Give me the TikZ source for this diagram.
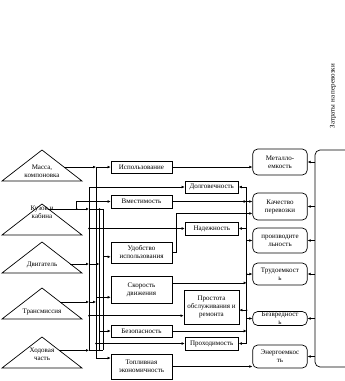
\documentclass[tikz,border=0pt]{standalone}
\usepackage{fontspec}
\setmainfont{Liberation Serif}
\usepackage{tikz}
\usetikzlibrary{shapes.geometric, arrows.meta, calc}
\newcommand{\diagfont}{\fontsize{7}{8}\selectfont}
\tikzset{
  comp_tri/.style={isosceles triangle, draw, line width=0.7pt, shape border rotate=90, isosceles triangle stretches, minimum width=80, minimum height=31, inner sep=0pt, outer sep=0pt, anchor=lower side},
  comp_text/.style={align=center, font=\diagfont, inner sep=0pt},
  prop_box/.style={rectangle, draw, line width=0.7pt, align=center, font=\diagfont, inner sep=1pt, minimum width=61},
  rel_box/.style={rectangle, draw, line width=0.7pt, align=center, font=\diagfont, inner sep=1pt, minimum width=53.5},
  cost_box/.style={rectangle, draw, line width=0.7pt, rounded corners=5pt, align=center, font=\diagfont, inner sep=1pt, minimum width=54.6},
  arrow/.style={-{Latex[length=3pt,width=2.8pt]}, line width=0.7pt},
  link/.style={line width=0.7pt},
}
\begin{document}
\begin{tikzpicture}[x=1pt, y=-1pt]
  \useasboundingbox (0,0) rectangle (345,381);

  % components
  \node[comp_tri] (massa) at (42,181) {};
  \node[comp_tri] (kuzov) at (42,235) {};
  \node[comp_tri] (dvig) at (42,273) {};
  \node[comp_tri] (trans) at (42,319) {};
  \node[comp_tri] (hod) at (42,368) {};
  \node[comp_text] (massa_t) at (42,171) {Масса,\\компоновка};
  \node[comp_text] (kuzov_t) at (42,212) {Кузов и\\кабина};
  \node[comp_text] (dvig_t) at (42,265) {Двигатель};
  \node[comp_text] (trans_t) at (42,312) {Трансмиссия};
  \node[comp_text] (hod_t) at (42,354) {Ходовая\\часть};

  % properties
  \node[prop_box, minimum height=12] (ispolz) at (141.5,167) {Использование};
  \node[prop_box, minimum height=13] (vmest) at (141.5,201.5) {Вместимость};
  \node[prop_box, minimum height=21] (udobst) at (141.5,252.5) {Удобство\\использования};
  \node[prop_box, minimum height=27] (skorost) at (141.5,289.5) {Скорость\\движения};
  \node[prop_box, minimum height=12] (bezop) at (141.5,331) {Безопасность};
  \node[prop_box, minimum height=25] (toplivo) at (141.5,366.5) {Топливная\\экономичность};

  \node[rel_box, minimum height=12] (dolgov) at (211.75,187) {Долговечность};
  \node[rel_box, minimum height=13] (nadezh) at (211.75,228.5) {Надежность};
  \node[rel_box, minimum height=34, minimum width=55] (prostota) at (211.5,307) {Простота\\обслуживания и\\ремонта};
  \node[rel_box, minimum height=13] (prohod) at (211.75,343.5) {Проходимость};

  % costs
  \node[cost_box, minimum height=26] (metal) at (280,162) {Металло-\\емкость};
  \node[cost_box, minimum height=27] (kach) at (280,206.5) {Качество\\перевозки};
  \node[cost_box, minimum height=25] (proizv) at (280,240.5) {производите\\льность};
  \node[cost_box, minimum height=22] (trud) at (280,274) {Трудоемкост\\ь};
  \node[cost_box, minimum height=14, inner ysep=0pt] (bezvr) at (280,318.5) {Безвредност\\ь};
  \node[cost_box, minimum height=23] (energ) at (280,356.5) {Энергоемкос\\ть};
  \node[rotate=90, font=\diagfont, inner sep=0pt] (cost_label) at (333,96) {Затраты на перевозки};

  % buses
  \coordinate (busA) at (89,0);
  \coordinate (busB) at (96,0);
  \coordinate (busC) at (99.5,0);
  \coordinate (busD) at (103,0);
  \coordinate (busR) at (246.7,0);
  \coordinate (kbr) at (76.7,0);
  \coordinate (uturn) at (176.7,0);
  \coordinate (brace) at (315,0);

  \coordinate (massa_out) at ($(massa.apex)!0.55!(massa.right corner)$);
  \coordinate (kuzov_out) at ($(kuzov.apex)!0.16!(kuzov.right corner)$);
  \coordinate (dvig_out) at ($(dvig.apex)!0.71!(dvig.right corner)$);
  \coordinate (trans_out) at ($(trans.apex)!0.45!(trans.right corner)$);
  \coordinate (hod_out) at ($(hod.apex)!0.43!(hod.right corner)$);

  \coordinate (uin) at ($(udobst.north west)!0.7!(udobst.south west)$);
  \coordinate (sin) at ($(skorost.north west)!0.78!(skorost.south west)$);
  \coordinate (pin) at ($(prostota.north west)!0.75!(prostota.south west)$);
  \coordinate (tin) at ($(toplivo.north west)!0.17!(toplivo.south west)$);
  \coordinate (kin) at ($(kach.north west)!0.75!(kach.south west)$);
  \coordinate (sout) at ($(skorost.north east)!0.26!(skorost.south east)$);
  \coordinate (pout) at ($(prostota.north east)!0.59!(prostota.south east)$);

  % left side
  \draw[link] (dolgov.west -| busA) -- (hod_out -| busA);
  \draw[link] (massa_out -| busB) -- (tin -| busB);
  \draw[link] (kuzov_out -| busC) -- (hod_out -| busC);
  \draw[link] (kuzov_out -| busD) -- (hod_out -| busD);

  \draw[arrow] (massa_out) -- (massa_out -| busB);
  \draw[arrow] (massa_out -| busB) -- (massa_out -| ispolz.west);
  \draw[arrow] (kuzov_out) -- (kuzov_out -| busA);
  \draw[link] (kuzov_out -| busA) -- (kuzov_out -| busD);
  \draw[arrow] (kuzov_out -| kbr) |- (vmest.west);
  \draw[arrow] (dvig_out) -- (dvig_out -| busA);
  \draw[arrow] (dvig_out -| busA) -- (dvig_out -| busC);
  \draw[arrow] (trans_out) -- (trans_out -| busA);
  \draw[arrow] (trans_out -| busA) -- (trans_out -| busB);
  \draw[arrow] (hod_out) -- (hod_out -| busA);
  \draw[link] (hod_out -| busA) -- (hod_out -| busD);

  \draw[arrow] (dolgov.west -| busA) -- (dolgov.west);
  \draw[arrow] (nadezh.west -| busA) -- (nadezh.west);
  \draw[arrow] (pin -| busA) -- (pin);
  \draw[arrow] (uin -| busD) -- (uin);
  \draw[arrow] (sin -| busB) -- (sin);
  \draw[arrow] (bezop.west -| busC) -- (bezop.west);
  \draw[arrow] (prohod.west -| busB) -- (prohod.west);
  \draw[arrow] (tin -| busB) -- (tin);

  % right side
  \draw[link] (dolgov.east -| busR) -- (prohod.east -| busR);
  \draw[arrow] (ispolz.east) -- (ispolz.east -| metal.west);
  \draw[arrow] (vmest.east) -- (vmest.east -| busR);
  \draw[arrow] (vmest.east -| busR) -- (vmest.east -| kach.west);
  \draw[arrow] (udobst.east) -| (kin -| uturn) -- (kin);
  \draw[arrow] (sout) -- (sout -| busR);
  \draw[arrow] (bezop.east) -- (bezop.east -| busR);
  \draw[arrow] (toplivo.east) -- (toplivo.east -| energ.west);

  \draw[arrow] (dolgov.east -| busR) -- (dolgov.east);
  \draw[arrow] (nadezh.east -| busR) -- (nadezh.east);
  \draw[arrow] (pout -| busR) -- (pout);
  \draw[arrow] (prohod.east -| busR) -- (prohod.east);
  \draw[arrow] (proizv.west -| busR) -- (proizv.west);
  \draw[arrow] (trud.west -| busR) -- (trud.west);
  \draw[arrow] (bezvr.west -| busR) -- (bezvr.west);

  % costs bracket
  \draw[link, rounded corners=5pt] (345,150) -- (brace |- 0,150) -- (brace |- 0,367) -- (345,367);
  \foreach \c in {metal, kach, proizv, trud, bezvr, energ}
    \draw[arrow] (\c.east -| brace) -- (\c.east);

  \foreach \p in {(nadezh.west -| busA), (pin -| busA), (prohod.west -| busB), (kuzov_out -| busC), (hod_out -| busC), (kuzov_out -| kbr), (trud.west -| busR), (pout -| busR)}
    \fill \p circle (0.9pt);
\end{tikzpicture}
\end{document}
